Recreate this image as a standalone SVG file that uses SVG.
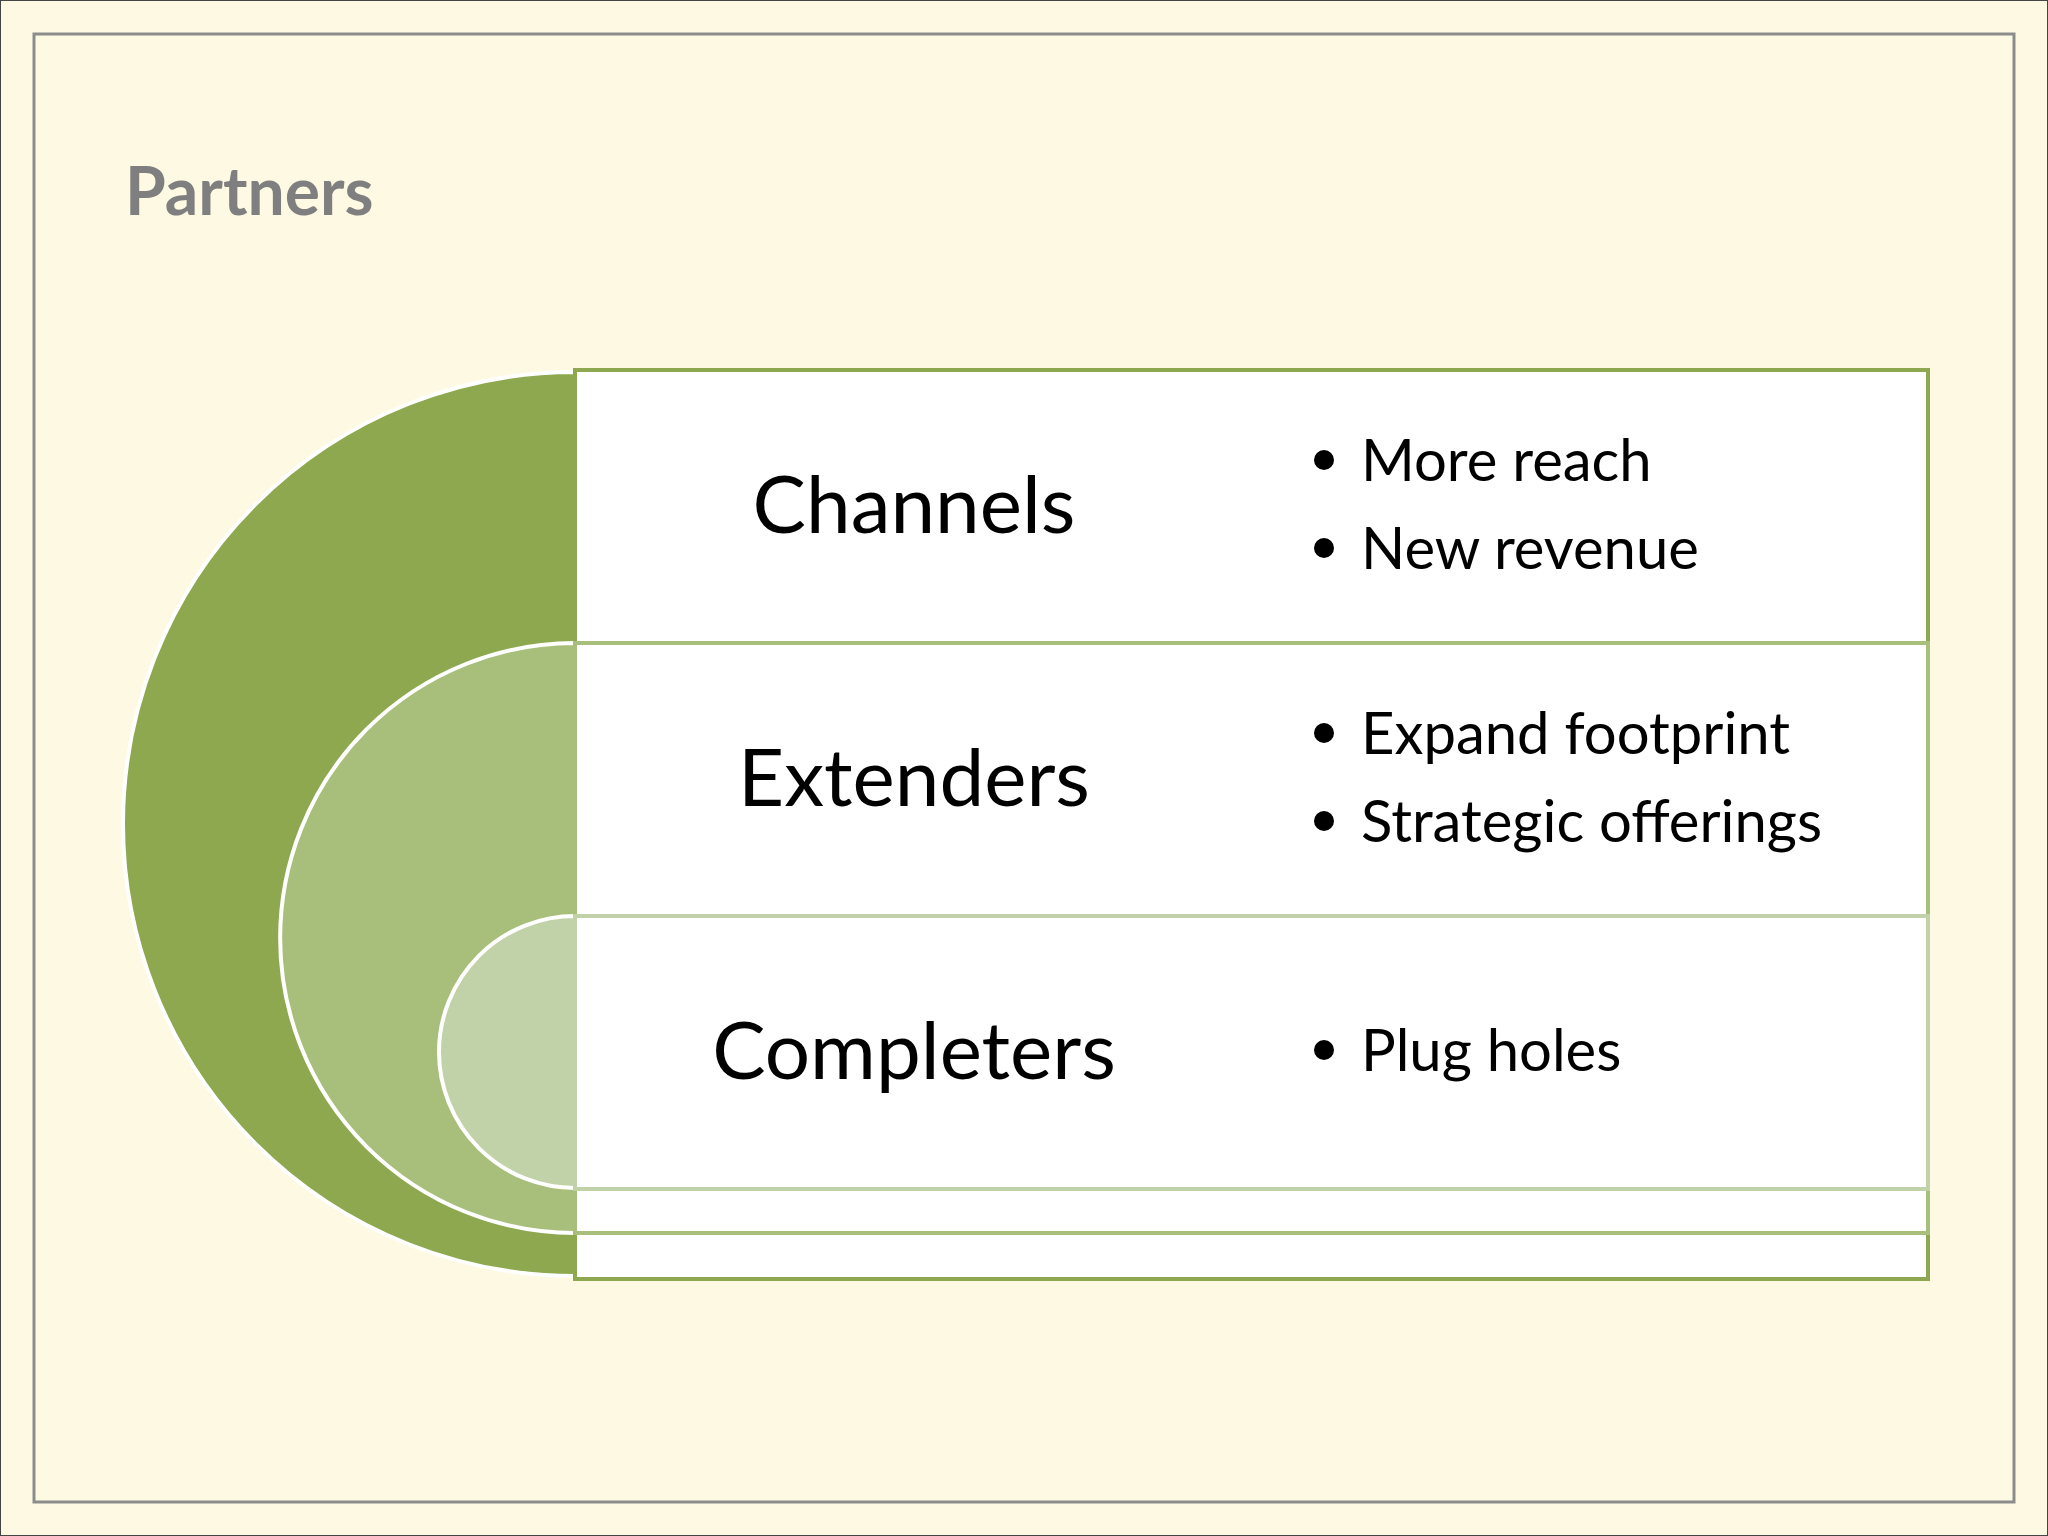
<svg xmlns="http://www.w3.org/2000/svg" width="2048" height="1536" viewBox="0 0 2048 1536">
<style>
.lbl{font-family:Lato,"Noto Sans",sans-serif;font-size:80px;fill:#000;text-anchor:middle}
.bul{font-family:Lato,"Noto Sans",sans-serif;font-size:58px;fill:#000}
</style>
<rect x="0" y="0" width="2048" height="1536" fill="#FEF9E3" stroke="#444" stroke-width="2"/>
<rect x="34" y="34" width="1980" height="1468" fill="#FEF9E3" stroke="#8C8C8C" stroke-width="3"/>
<text x="125" y="215" font-family="Lato,'Noto Sans',sans-serif" font-weight="bold" font-size="66" fill="#7F7F7F">Partners</text>
<g id="arcs" stroke="#FFFFFF" stroke-width="4">
<path d="M575,372 A452,452 0 0 0 575,1276 Z" fill="#8DA84F"/>
<path d="M575,643 A295,295 0 0 0 575,1233 Z" fill="#A8BF7B"/>
<path d="M575,916 A136,136 0 0 0 575,1188 Z" fill="#C2D2A8"/>
</g>
<g id="channels">
<rect x="575" y="370" width="1353" height="909" fill="#FFFFFF" stroke="#8DA84F" stroke-width="4"/>
<text class="lbl" x="914" y="533">Channels</text>
<circle cx="1324" cy="460" r="10"/><text class="bul" x="1361" y="481">More reach</text>
<circle cx="1324" cy="548" r="10"/><text class="bul" x="1361" y="569">New revenue</text>
</g>
<g id="extenders">
<rect x="575" y="643" width="1353" height="590" fill="#FFFFFF" stroke="#A8BF7B" stroke-width="4"/>
<text class="lbl" x="914" y="806">Extenders</text>
<circle cx="1324" cy="733" r="10"/><text class="bul" x="1361" y="754">Expand footprint</text>
<circle cx="1324" cy="821" r="10"/><text class="bul" x="1361" y="842">Strategic offerings</text>
</g>
<g id="completers">
<rect x="575" y="916" width="1353" height="273" fill="#FFFFFF" stroke="#C2D2A8" stroke-width="4"/>
<text class="lbl" x="914" y="1079">Completers</text>
<circle cx="1324" cy="1050" r="10"/><text class="bul" x="1361" y="1071">Plug holes</text>
</g>
<g id="connectors"/>
</svg>
